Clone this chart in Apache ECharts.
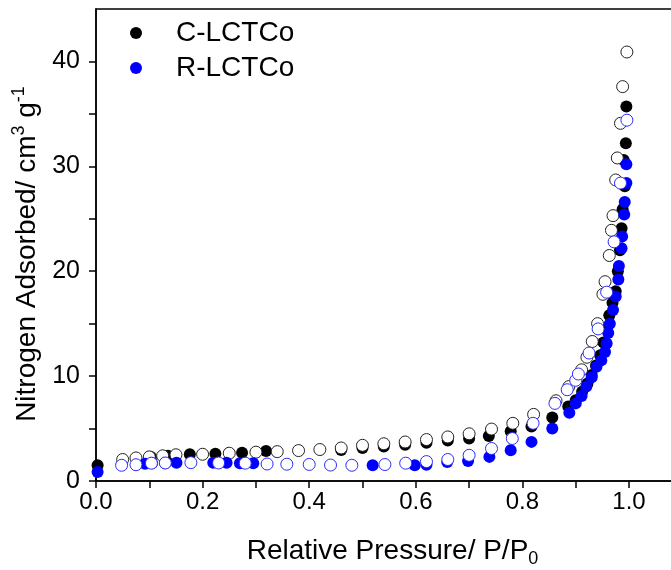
<!DOCTYPE html>
<html>
<head>
<meta charset="utf-8">
<script src="https://cdn.jsdelivr.net/npm/echarts@6/dist/echarts.min.js"></script>
<style>
html, body { margin: 0; padding: 0; background: #fff; }
#chart { width: 671px; height: 570px; }
</style>
</head>
<body>
<div id="chart"></div>
<script>
// C-LCTCo adsorption branch (filled black)
const cAdsP = [0.003, 0.103, 0.135, 0.176, 0.224, 0.274, 0.319, 0.46, 0.50, 0.54, 0.58, 0.62, 0.66, 0.70, 0.737, 0.778, 0.817, 0.856, 0.886, 0.90, 0.912, 0.922, 0.93, 0.938, 0.946, 0.952, 0.958, 0.963, 0.969, 0.975, 0.979, 0.983, 0.986, 0.988, 0.992, 0.990, 0.994, 0.995];
const cAdsV = [1.5, 2.3, 2.4, 2.55, 2.6, 2.7, 2.85, 2.95, 3.15, 3.3, 3.45, 3.65, 3.85, 4.05, 4.3, 4.75, 5.2, 6.05, 7.1, 7.7, 8.5, 9.3, 10.1, 11.0, 12.0, 13.2, 14.5, 15.8, 17.0, 18.1, 20.0, 22.0, 24.1, 25.9, 28.1, 30.6, 32.2, 35.7];
// C-LCTCo desorption branch (open black)
const cDesP = [0.05, 0.075, 0.10, 0.125, 0.15, 0.20, 0.25, 0.30, 0.34, 0.38, 0.42, 0.46, 0.50, 0.54, 0.58, 0.62, 0.66, 0.70, 0.742, 0.782, 0.821, 0.863, 0.887, 0.911, 0.921, 0.931, 0.941, 0.951, 0.955, 0.963, 0.967, 0.970, 0.975, 0.978, 0.984, 0.988, 0.996];
const cDesV = [2.05, 2.2, 2.3, 2.4, 2.5, 2.55, 2.65, 2.75, 2.8, 2.9, 3.0, 3.15, 3.4, 3.55, 3.72, 3.95, 4.2, 4.5, 4.95, 5.5, 6.35, 7.65, 9.0, 10.6, 11.8, 13.3, 15.0, 17.8, 19.0, 21.5, 23.9, 25.3, 28.7, 30.8, 34.1, 37.6, 40.9];
// R-LCTCo adsorption branch (filled blue)
const rAdsP = [0.003, 0.092, 0.105, 0.13, 0.151, 0.22, 0.245, 0.27, 0.295, 0.519, 0.598, 0.62, 0.659, 0.698, 0.738, 0.778, 0.817, 0.856, 0.888, 0.90, 0.911, 0.92, 0.93, 0.939, 0.948, 0.955, 0.958, 0.961, 0.964, 0.97, 0.975, 0.98, 0.981, 0.986, 0.987, 0.991, 0.992, 0.995, 0.995];
const rAdsV = [0.85, 1.65, 1.7, 1.7, 1.75, 1.75, 1.75, 1.7, 1.7, 1.5, 1.5, 1.55, 1.8, 1.9, 2.3, 2.93, 3.73, 5.0, 6.5, 7.4, 8.1, 9.0, 9.9, 10.9, 11.5, 12.3, 13.1, 14.1, 15.0, 16.3, 17.6, 19.2, 20.5, 22.2, 23.3, 25.4, 26.6, 28.4, 30.2];
// R-LCTCo desorption branch (open blue)
const rDesP = [0.048, 0.075, 0.104, 0.13, 0.178, 0.23, 0.28, 0.321, 0.358, 0.40, 0.44, 0.48, 0.542, 0.581, 0.62, 0.66, 0.70, 0.742, 0.781, 0.82, 0.861, 0.884, 0.90, 0.905, 0.925, 0.942, 0.958, 0.972, 0.984, 0.996];
const rDesV = [1.5, 1.55, 1.7, 1.72, 1.75, 1.72, 1.7, 1.62, 1.6, 1.58, 1.52, 1.5, 1.57, 1.7, 1.85, 2.05, 2.45, 3.1, 4.05, 5.5, 7.4, 8.7, 9.6, 10.2, 12.2, 14.5, 18.0, 22.8, 28.4, 34.4];

const xTicks = ['0.0', '0.2', '0.4', '0.6', '0.8', '1.0'];
const yTicks = ['0', '10', '20', '30', '40'];

const pairs = (p, v) => p.map((x, i) => [x, v[i]]);
const font = 'Liberation Sans, Arial, sans-serif';

const chart = echarts.init(document.getElementById('chart'));

const option = {
    animation: false,
    grid: {
        left: 96, top: 9, right: -6, bottom: 89,
        outerBoundsMode: 'none',
        show: true, borderColor: '#000', borderWidth: 1.5
    },
    legend: {
        orient: 'vertical',
        left: 125, top: 14,
        itemWidth: 70, itemHeight: 12, itemGap: 7,
        icon: 'circle',
        data: ['C-LCTCo', 'R-LCTCo'],
        textStyle: { fontSize: 28, fontFamily: font, color: '#000' }
    },
    xAxis: {
        type: 'value', min: 0, max: 1.09, interval: 0.1,
        name: '{a|Relative Pressure/ P/P}{sub|0}',
        nameLocation: 'middle', nameGap: 53,
        nameTextStyle: {
            padding: [0, 0, 0, 12],
            rich: {
                a: { fontSize: 28, fontFamily: font, color: '#000', lineHeight: 34 },
                sub: { fontSize: 18, fontFamily: font, color: '#000', verticalAlign: 'bottom', lineHeight: 34 }
            }
        },
        axisLine: { lineStyle: { color: '#000', width: 1.5 } },
        axisTick: { length: 7, lineStyle: { color: '#000', width: 1.5 } },
        splitLine: { show: false },
        axisLabel: {
            fontSize: 24, fontFamily: font, color: '#000', margin: 9, showMaxLabel: false,
            formatter: v => {
                const s = v.toFixed(1);
                return xTicks.indexOf(s) >= 0 ? s : '';
            }
        }
    },
    yAxis: {
        type: 'value', min: 0, max: 45, interval: 5,
        name: '{a|Nitrogen Adsorbed/ cm}{sup|3}{a| g}{sup|-1}',
        nameLocation: 'middle', nameGap: 50,
        nameTextStyle: {
            padding: [0, 18, 0, 0],
            rich: {
                a: { fontSize: 28, fontFamily: font, color: '#000', lineHeight: 34 },
                sup: { fontSize: 18, fontFamily: font, color: '#000', verticalAlign: 'top', lineHeight: 34 }
            }
        },
        axisLine: { lineStyle: { color: '#000', width: 1.5 } },
        axisTick: { length: 7, lineStyle: { color: '#000', width: 1.5 } },
        splitLine: { show: false },
        axisLabel: {
            fontSize: 25, fontFamily: font, color: '#000', margin: 16, showMaxLabel: false,
            formatter: v => {
                const s = String(Math.round(v));
                return yTicks.indexOf(s) >= 0 && Math.abs(v - Math.round(v)) < 1e-6 ? s : '';
            }
        }
    },
    series: [
        {
            name: 'C-LCTCo', type: 'scatter', symbol: 'circle', symbolSize: 12,
            data: pairs(cAdsP, cAdsV),
            itemStyle: { color: '#000', opacity: 1 }
        },
        {
            name: 'C-LCTCo desorption', type: 'scatter', symbol: 'circle', symbolSize: 12,
            data: pairs(cDesP, cDesV),
            itemStyle: { color: '#fff', borderColor: '#222', borderWidth: 1, opacity: 1 }
        },
        {
            name: 'R-LCTCo', type: 'scatter', symbol: 'circle', symbolSize: 12,
            data: pairs(rAdsP, rAdsV),
            itemStyle: { color: '#0000ff', opacity: 1 }
        },
        {
            name: 'R-LCTCo desorption', type: 'scatter', symbol: 'circle', symbolSize: 12,
            data: pairs(rDesP, rDesV),
            itemStyle: { color: '#fff', borderColor: '#2a2aff', borderWidth: 1, opacity: 1 }
        }
    ]
};

chart.setOption(option);
</script>
</body>
</html>
